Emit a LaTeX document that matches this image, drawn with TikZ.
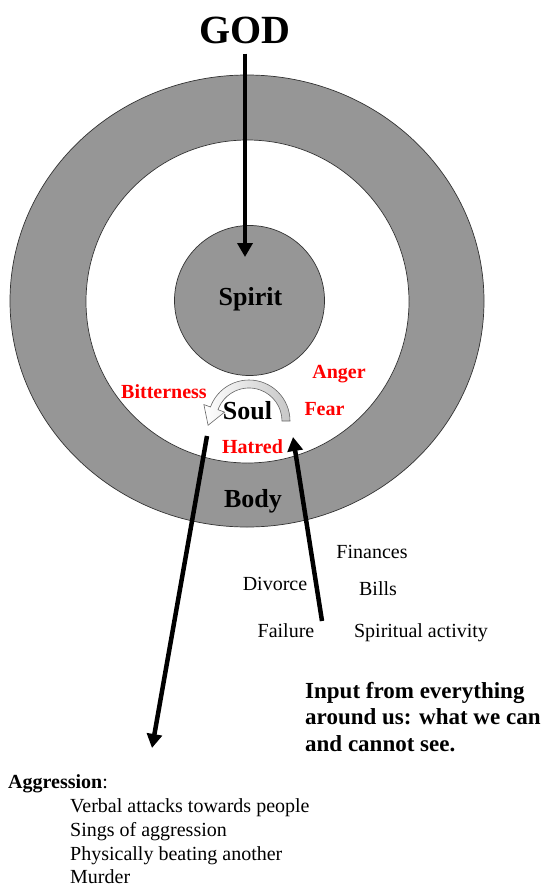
\documentclass[tikz,border=0pt]{standalone}
\usepackage{fontspec}
\setmainfont{Liberation Serif}
\usetikzlibrary{arrows.meta,calc}
\definecolor{ringgray}{RGB}{150,150,150}
\definecolor{labelred}{RGB}{255,0,0}
\begin{document}
\begin{tikzpicture}[x=1pt,y=-1pt,
  ring/.style={fill=ringgray, draw=black!80, line width=0.7pt},
  bigarrow/.style={line width=4.5pt, -{Triangle[length=14pt,width=15pt]}},
  parttext/.style={font=\bfseries\fontsize{26}{30}\selectfont, inner sep=0pt, anchor=base},
  feeling/.style={font=\bfseries\fontsize{20}{24}\selectfont, text=labelred, inner sep=0pt, anchor=base},
  cause/.style={font=\fontsize{20}{24}\selectfont, inner sep=0pt, anchor=base},
  inputtext/.style={font=\bfseries\fontsize{23}{27}\selectfont, inner sep=0pt, anchor=base west},
  listitem/.style={font=\fontsize{20}{24}\selectfont, inner sep=0pt, anchor=base west}]
\useasboundingbox (0,0) rectangle (558,886);
\fill[white] (0,0) rectangle (558,886);

% rings
\path[ring] (247,301) ellipse [x radius=237pt, y radius=226pt];
\path[fill=white, draw=black!80, line width=0.7pt] (247.5,301.5) circle [radius=161.5pt];
\node[ring, circle, minimum size=150pt, inner sep=0pt] (spirit) at (249.5,300.5) {};

% labels of parts
\node[font=\bfseries\fontsize{40}{44}\selectfont, inner sep=0pt, anchor=base] (god) at (245,43) {GOD};
\node[parttext] (spiritlabel) at (250.5,305) {Spirit};
\node[parttext] (soul) at (247.5,419) {Soul};
\node[parttext] (body) at (253,507) {Body};

% God arrow
\coordinate (godtip) at (245,257);
\draw[bigarrow] ([yshift=-10pt]god.south) -- (godtip);

% soul ribbon arrow
\coordinate (C) at (249,421);
\path[draw=black!60, line width=0.6pt, left color=white, right color=black!22]
  ($(C)+(0:41pt)$) arc[start angle=0, end angle=160, radius=41pt]
  -- ($(C)+(160:48pt)$) -- ($(C)+(160:37pt)+(250:18pt)$) -- ($(C)+(160:26pt)$)
  -- ($(C)+(160:33pt)$) arc[start angle=160, end angle=0, radius=33pt] -- cycle;

% feelings
\node[feeling] (bitter) at (164,398) {Bitterness};
\node[feeling] (anger) at (339,378) {Anger};
\node[feeling] (fear) at (324.5,415) {Fear};
\node[feeling] (hatred) at (252.5,453) {Hatred};

% in and out arrows
\coordinate (outstart) at (207,436);
\coordinate (outend) at (152,748);
\draw[bigarrow] (outstart) -- (outend);
\coordinate (instart) at (322,621);
\coordinate (inend) at (293,437);
\draw[bigarrow] (instart) -- (inend);

% causes
\node[cause] (finances) at (372,558) {Finances};
\node[cause] (divorce) at (275,590) {Divorce};
\node[cause] (bills) at (378,595) {Bills};
\node[cause] (failure) at (286,637) {Failure};
\node[cause] (spiritual) at (421,637) {Spiritual activity};

% input text
\node[inputtext] (in1) at (305,698) {Input from everything};
\node[inputtext] (in2) at (305,724) {around us: what we can};
\node[inputtext] (in3) at (305,751) {and cannot see.};

% aggression list
\node[listitem] (aggr) at (8,788) {\textbf{Aggression}:};
\node[listitem] (verbal) at (70,812) {Verbal attacks towards people};
\node[listitem] (sings) at (70,836) {Sings of aggression};
\node[listitem] (beating) at (70,860) {Physically beating another};
\node[listitem] (murder) at (70,883) {Murder};
\end{tikzpicture}
\end{document}
